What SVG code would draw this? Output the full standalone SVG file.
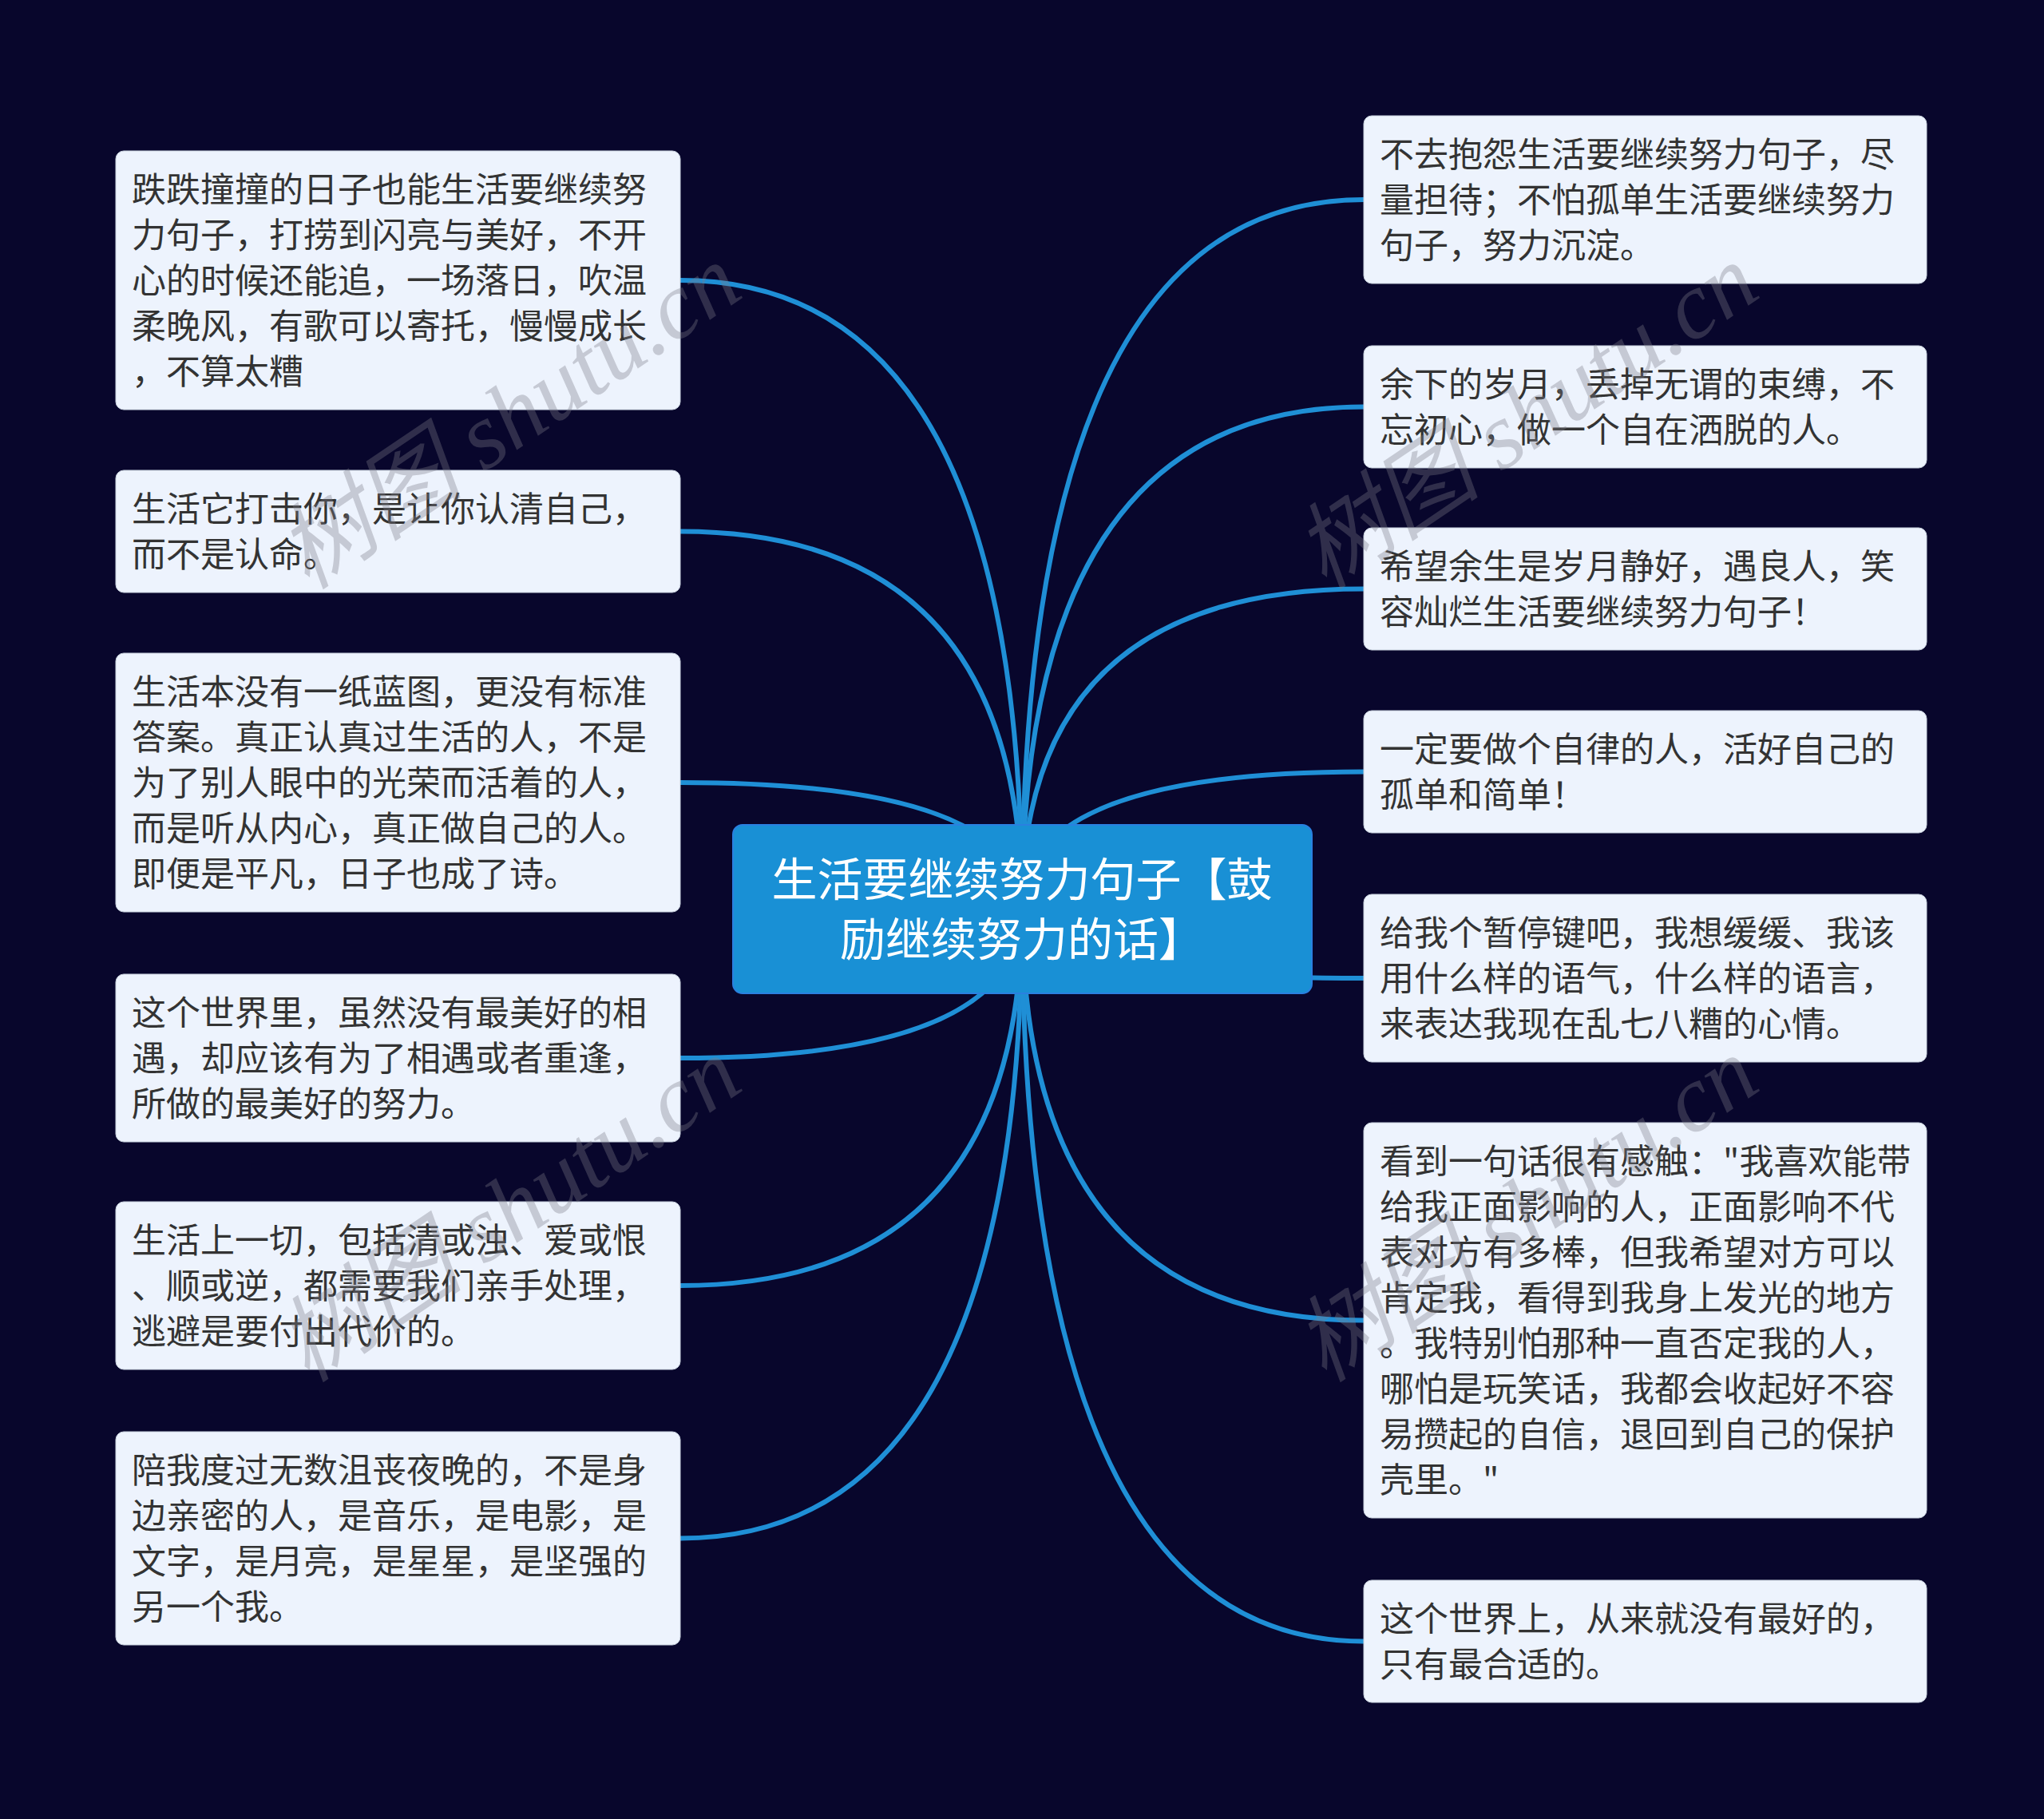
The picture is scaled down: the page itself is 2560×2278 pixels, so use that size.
<svg xmlns="http://www.w3.org/2000/svg" width="2560" height="2278" viewBox="0 0 2560 2278">
<style>
.bg{fill:#08062c}
.link{fill:none;stroke:#1f8fd6;stroke-width:6;stroke-linecap:round}
.box{fill:#edf3fd;stroke:#c9d2de;stroke-width:1}
.t{font-family:"Noto Sans CJK SC","Noto Sans",sans-serif;font-size:43px;fill:#333333}
.root{fill:#1990d5;stroke:#2a80e0;stroke-width:2}
.rt{font-family:"Noto Sans CJK SC","Noto Sans",sans-serif;font-size:57px;fill:#ffffff;text-anchor:middle}
.wm{font-family:"Liberation Serif","Noto Sans CJK SC",serif;font-style:italic;font-size:118px;fill:#7a7a88;fill-opacity:0.35;text-anchor:middle}
</style>
<rect class="bg" x="0" y="0" width="2560" height="2278"/>
<g id="connectors">
<path class="link" d="M1280,1138 Q1280,351 852,351"/>
<path class="link" d="M1280,1138 Q1280,665.5 852,665.5"/>
<path class="link" d="M1280,1138 Q1280,980 852,980"/>
<path class="link" d="M1280,1138 Q1280,1325 852,1325"/>
<path class="link" d="M1280,1138 Q1280,1610 852,1610"/>
<path class="link" d="M1280,1138 Q1280,1926.5 852,1926.5"/>
<path class="link" d="M1280,1138 Q1280,250 1708,250"/>
<path class="link" d="M1280,1138 Q1280,509.5 1708,509.5"/>
<path class="link" d="M1280,1138 Q1280,737.5 1708,737.5"/>
<path class="link" d="M1280,1138 Q1280,966.5 1708,966.5"/>
<path class="link" d="M1280,1138 Q1280,1225 1708,1225"/>
<path class="link" d="M1280,1138 Q1280,1653.5 1708,1653.5"/>
<path class="link" d="M1280,1138 Q1280,2055.5 1708,2055.5"/>
</g>
<g id="root">
<rect class="root" x="918" y="1033" width="725" height="211" rx="12"/>
<text class="rt" x="1280" y="1122">生活要继续努力句子【鼓</text>
<text class="rt" x="1280" y="1197">励继续努力的话】</text>
</g>
<g id="n-l1">
<rect class="box" x="145" y="189" width="707" height="324" rx="10"/>
<text class="t" x="165" y="253">跌跌撞撞的日子也能生活要继续努</text>
<text class="t" x="165" y="310">力句子，打捞到闪亮与美好，不开</text>
<text class="t" x="165" y="367">心的时候还能追，一场落日，吹温</text>
<text class="t" x="165" y="424">柔晚风，有歌可以寄托，慢慢成长</text>
<text class="t" x="165" y="481">，不算太糟</text>
</g>
<g id="n-l2">
<rect class="box" x="145" y="589" width="707" height="153" rx="10"/>
<text class="t" x="165" y="653">生活它打击你，是让你认清自己，</text>
<text class="t" x="165" y="710">而不是认命。</text>
</g>
<g id="n-l3">
<rect class="box" x="145" y="818" width="707" height="324" rx="10"/>
<text class="t" x="165" y="882">生活本没有一纸蓝图，更没有标准</text>
<text class="t" x="165" y="939">答案。真正认真过生活的人，不是</text>
<text class="t" x="165" y="996">为了别人眼中的光荣而活着的人，</text>
<text class="t" x="165" y="1053">而是听从内心，真正做自己的人。</text>
<text class="t" x="165" y="1110">即便是平凡，日子也成了诗。</text>
</g>
<g id="n-l4">
<rect class="box" x="145" y="1220" width="707" height="210" rx="10"/>
<text class="t" x="165" y="1284">这个世界里，虽然没有最美好的相</text>
<text class="t" x="165" y="1341">遇，却应该有为了相遇或者重逢，</text>
<text class="t" x="165" y="1398">所做的最美好的努力。</text>
</g>
<g id="n-l5">
<rect class="box" x="145" y="1505" width="707" height="210" rx="10"/>
<text class="t" x="165" y="1569">生活上一切，包括清或浊、爱或恨</text>
<text class="t" x="165" y="1626">、顺或逆，都需要我们亲手处理，</text>
<text class="t" x="165" y="1683">逃避是要付出代价的。</text>
</g>
<g id="n-l6">
<rect class="box" x="145" y="1793" width="707" height="267" rx="10"/>
<text class="t" x="165" y="1857">陪我度过无数沮丧夜晚的，不是身</text>
<text class="t" x="165" y="1914">边亲密的人，是音乐，是电影，是</text>
<text class="t" x="165" y="1971">文字，是月亮，是星星，是坚强的</text>
<text class="t" x="165" y="2028">另一个我。</text>
</g>
<g id="n-r1">
<rect class="box" x="1708" y="145" width="705" height="210" rx="10"/>
<text class="t" x="1728" y="209">不去抱怨生活要继续努力句子，尽</text>
<text class="t" x="1728" y="266">量担待；不怕孤单生活要继续努力</text>
<text class="t" x="1728" y="323">句子，努力沉淀。</text>
</g>
<g id="n-r2">
<rect class="box" x="1708" y="433" width="705" height="153" rx="10"/>
<text class="t" x="1728" y="497">余下的岁月，丢掉无谓的束缚，不</text>
<text class="t" x="1728" y="554">忘初心，做一个自在洒脱的人。</text>
</g>
<g id="n-r3">
<rect class="box" x="1708" y="661" width="705" height="153" rx="10"/>
<text class="t" x="1728" y="725">希望余生是岁月静好，遇良人，笑</text>
<text class="t" x="1728" y="782">容灿烂生活要继续努力句子！</text>
</g>
<g id="n-r4">
<rect class="box" x="1708" y="890" width="705" height="153" rx="10"/>
<text class="t" x="1728" y="954">一定要做个自律的人，活好自己的</text>
<text class="t" x="1728" y="1011">孤单和简单！</text>
</g>
<g id="n-r5">
<rect class="box" x="1708" y="1120" width="705" height="210" rx="10"/>
<text class="t" x="1728" y="1184">给我个暂停键吧，我想缓缓、我该</text>
<text class="t" x="1728" y="1241">用什么样的语气，什么样的语言，</text>
<text class="t" x="1728" y="1298">来表达我现在乱七八糟的心情。</text>
</g>
<g id="n-r6">
<rect class="box" x="1708" y="1406" width="705" height="495" rx="10"/>
<text class="t" x="1728" y="1470">看到一句话很有感触："我喜欢能带</text>
<text class="t" x="1728" y="1527">给我正面影响的人，正面影响不代</text>
<text class="t" x="1728" y="1584">表对方有多棒，但我希望对方可以</text>
<text class="t" x="1728" y="1641">肯定我，看得到我身上发光的地方</text>
<text class="t" x="1728" y="1698">。我特别怕那种一直否定我的人，</text>
<text class="t" x="1728" y="1755">哪怕是玩笑话，我都会收起好不容</text>
<text class="t" x="1728" y="1812">易攒起的自信，退回到自己的保护</text>
<text class="t" x="1728" y="1869">壳里。"</text>
</g>
<g id="n-r7">
<rect class="box" x="1708" y="1979" width="705" height="153" rx="10"/>
<text class="t" x="1728" y="2043">这个世界上，从来就没有最好的，</text>
<text class="t" x="1728" y="2100">只有最合适的。</text>
</g>
<g id="watermarks">
<text class="wm" transform="translate(660,555) rotate(-34)">树图 shutu.cn</text>
<text class="wm" transform="translate(1934,555) rotate(-34)">树图 shutu.cn</text>
<text class="wm" transform="translate(660,1548) rotate(-34)">树图 shutu.cn</text>
<text class="wm" transform="translate(1934,1548) rotate(-34)">树图 shutu.cn</text>
</g>
</svg>
